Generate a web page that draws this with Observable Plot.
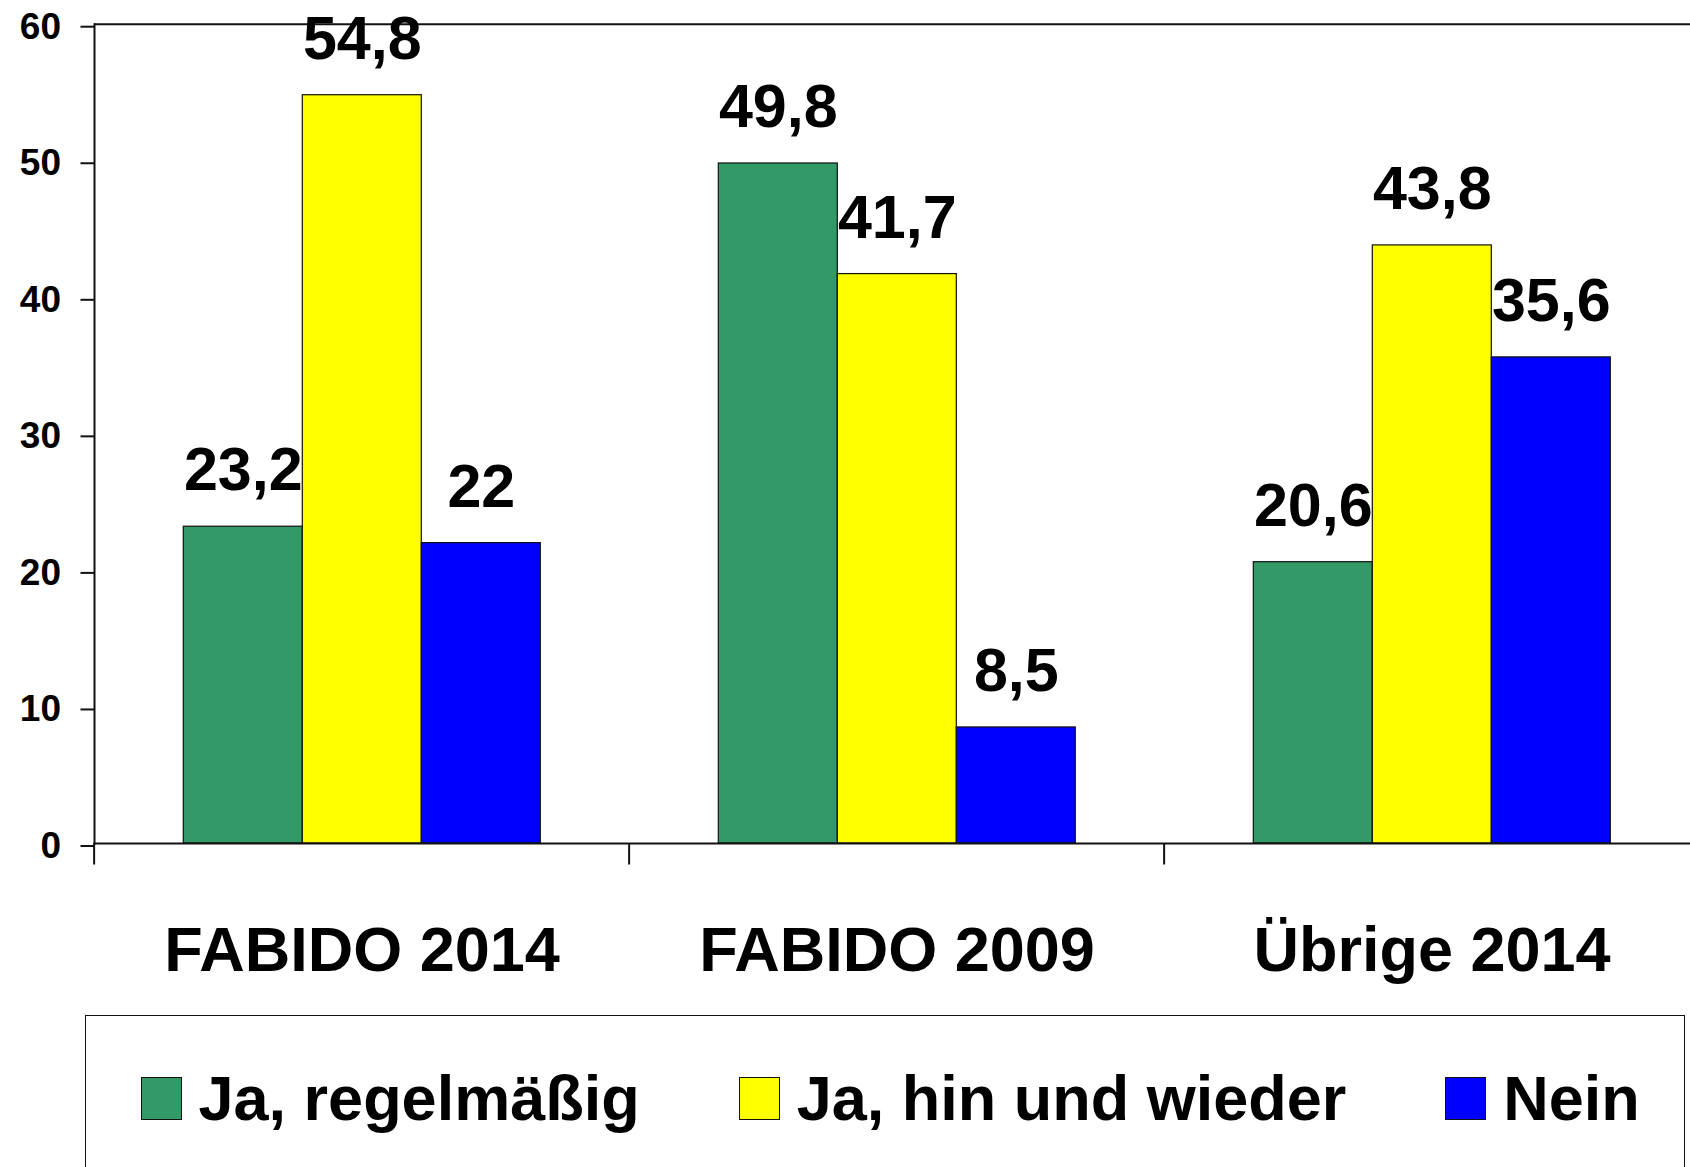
<!DOCTYPE html>
<html>
<head>
<meta charset="utf-8">
<script src="https://cdn.jsdelivr.net/npm/d3@7"></script>
<script src="https://cdn.jsdelivr.net/npm/@observablehq/plot@0.6"></script>
<style>
  html, body { margin: 0; padding: 0; background: #fff; overflow: hidden; }
  body { width: 1690px; height: 1167px; position: relative; font-family: "Liberation Sans", Arial, sans-serif; }
  #chart { position: absolute; left: 0; top: 0; }
  #legend {
    position: absolute; left: 85px; top: 1015px; width: 1600px; height: 200px;
    border: 1.5px solid #111; box-sizing: border-box; background: #fff;
  }
  #legend .row {
    position: absolute; left: 0; top: 51px; display: flex; flex-direction: row;
    align-items: flex-start; padding-left: 54.5px; gap: 99px;
  }
  #legend .item { display: flex; align-items: flex-start; gap: 17px; }
  #legend .sw { width: 41px; height: 43px; margin-top: 9.5px; border: 1.5px solid #111; box-sizing: border-box; }
  #legend .lbl { font-size: 63px; font-weight: bold; line-height: 1; color: #000; white-space: nowrap; }
</style>
</head>
<body>
<div id="chart"></div>
<div id="legend"><div class="row"></div></div>
<script>
// ---- data ----
const categories = ["FABIDO 2014", "FABIDO 2009", "Übrige 2014"];
const series = ["Ja, regelmäßig", "Ja, hin und wieder", "Nein"];
const regelmaessig = [23.2, 49.8, 20.6];
const hinUndWieder = [54.8, 41.7, 43.8];
const nein = [22, 8.5, 35.6];
const yTicks = [0, 10, 20, 30, 40, 50, 60];
const colors = ["#339966", "#FFFF00", "#0000FF"];

const seriesValues = [regelmaessig, hinUndWieder, nein];
const data = [];
categories.forEach((c, ci) => {
  series.forEach((s, si) => {
    data.push({category: c, series: s, value: seriesValues[si][ci]});
  });
});
const fmt = v => String(v).replace(".", ",");

// ---- layout ----
const W = 1690, H = 1005;
const mL = 92.7, mR = -10, mT = 23.7, mB = H - 843;
const step = (W - mL - mR) / categories.length;
const font = "'Liberation Sans', Arial, sans-serif";

const plot = Plot.plot({
  width: W,
  height: H,
  marginLeft: mL,
  marginRight: mR,
  marginTop: mT,
  marginBottom: mB,
  style: {fontFamily: font, background: "white", color: "#000", overflow: "visible"},
  fx: {domain: categories, padding: 0, axis: null},
  x: {domain: series, paddingInner: 0, paddingOuter: 0.7456, axis: null},
  y: {domain: [0, d3.max(yTicks)], axis: null},
  color: {domain: series, range: colors},
  marks: [
    Plot.barY(data, {fx: "category", x: "series", y: "value", fill: "series", stroke: "#111", strokeWidth: 1.2}),
    Plot.ruleY([0], {stroke: "#111", strokeWidth: 2}),
    Plot.ruleY([d3.max(yTicks)], {stroke: "#111", strokeWidth: 2}),
    Plot.frame({anchor: "left", facet: "super", stroke: "#111", strokeWidth: 2}),
    Plot.axisY({ticks: yTicks, tickSize: 13.5, tickPadding: 20, fontSize: 37, fontWeight: "bold",
      tickFormat: d => String(d), label: null, dy: 2.5, stroke: "#111", strokeWidth: 2}),
    Plot.axisFx({anchor: "bottom", text: null, tickSize: 21.5, dx: -step / 2, label: null, stroke: "#111", strokeWidth: 2}),
    Plot.axisFx({anchor: "bottom", tickSize: 0, tickPadding: 83, fontSize: 63, fontWeight: "bold", label: null}),
    Plot.text(data, {fx: "category", x: "series", y: "value", text: d => fmt(d.value),
      lineAnchor: "bottom", dy: -36.5, fontSize: 61, fontWeight: "bold", fill: "#000"})
  ]
});
document.getElementById("chart").appendChild(plot);

// ---- legend ----
const row = document.querySelector("#legend .row");
series.forEach((s, i) => {
  const item = document.createElement("div");
  item.className = "item";
  const sw = document.createElement("div");
  sw.className = "sw";
  sw.style.background = colors[i];
  const lbl = document.createElement("div");
  lbl.className = "lbl";
  lbl.textContent = s;
  item.appendChild(sw);
  item.appendChild(lbl);
  row.appendChild(item);
});
</script>
</body>
</html>
